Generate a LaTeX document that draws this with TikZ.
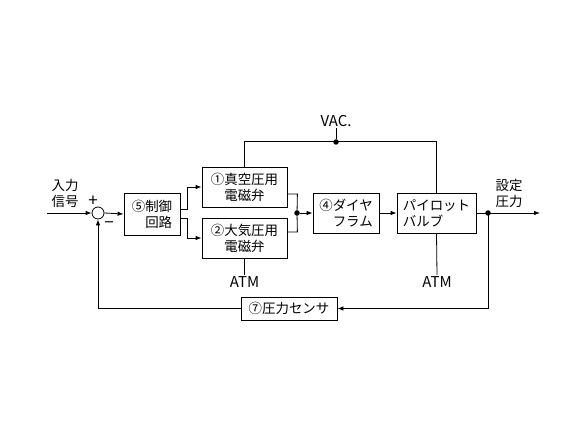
\documentclass[tikz,border=0pt]{standalone}
\usepackage{fontspec}
\setmainfont{Noto Sans CJK JP}
\usetikzlibrary{arrows.meta}

\begin{document}
\begin{tikzpicture}[x=1bp,y=-1bp,line width=0.8bp,
	font=\fontsize{13.5}{16}\selectfont,
	block/.style={rectangle,draw,inner sep=2bp},
	dot/.style={circle,fill,inner sep=0pt,minimum size=5.5bp},
	lbl/.style={inner sep=1bp},
	latin/.style={lbl,font=\fontsize{15}{18}\selectfont},
	sign/.style={lbl,font=\fontsize{17}{18}\selectfont},
	arr/.style={-{Latex[length=6bp,width=4.5bp]}}]
	\useasboundingbox (0,0) rectangle (583,437);
	\node (sum) at (98,213) [circle,draw,inner sep=0pt,minimum size=12bp] {};
	\node (ctrl) at (152,214) [block,minimum width=56bp,minimum height=42bp,align=right] {⑤制御\\回路};
	\node (sv1) at (244.5,187) [block,minimum width=85bp,minimum height=40bp,align=center] {①真空圧用\\電磁弁};
	\node (sv2) at (244.5,238) [block,minimum width=85bp,minimum height=40bp,align=center] {②大気圧用\\電磁弁};
	\node (dia) at (346,213) [block,minimum width=66bp,minimum height=40bp,align=right] {④ダイヤ\\フラム};
	\node (pil) at (436.5,213) [block,minimum width=79bp,minimum height=40bp,align=left] {パイロット\\バルブ};
	\node (sens) at (289,308.5) [block,minimum width=96bp,minimum height=23bp] {⑦圧力センサ};
	\node (j1) at (297,213) [dot] {};
	\node (j2) at (488,213) [dot] {};
	\node (vj) at (336,142) [dot] {};
	\node (in) at (65,193) [lbl,align=left] {入力\\信号};
	\node (set) at (509,193) [lbl,align=left] {設定\\圧力};
	\node (plus) at (93,201) [sign] {+};
	\node (minus) at (109,225) [sign] {−};
	\node (vac) at (336,121) [latin] {VAC.};
	\node (atm1) at (244.5,282) [latin] {ATM};
	\node (atm2) at (437,282) [latin] {ATM};
	\coordinate (src) at (47,213);
	\coordinate (out) at (540,213);
	\draw [arr] (src) -- (sum.west);
	\draw [arr] (sum.east) -- (ctrl.west);
	\draw [arr] ([yshift=5bp]ctrl.east) -- ++(7,0) |- (sv1.west);
	\draw [arr] ([yshift=-4bp]ctrl.east) -- ++(7,0) |- (sv2.west);
	\draw ([yshift=-7bp]sv1.east) -- ++(10,0) -- (j1.center);
	\draw ([yshift=6bp]sv2.east) -- ++(10,0) -- (j1.center);
	\draw [arr] (j1) -- (dia.west);
	\draw [arr] (dia.east) -- (pil.west);
	\draw (sv1.north) -- ++(0,-25) -| (pil.north);
	\draw (vj) -- (vac.south);
	\draw (sv2.south) -- (atm1.north);
	\draw (pil.south) -- (atm2.north);
	\draw [arr] (pil.east) -- (out);
	\draw [arr] (j2.center) |- (sens.east);
	\draw [arr] (sens.west) -| (sum.south);
\end{tikzpicture}
\end{document}
